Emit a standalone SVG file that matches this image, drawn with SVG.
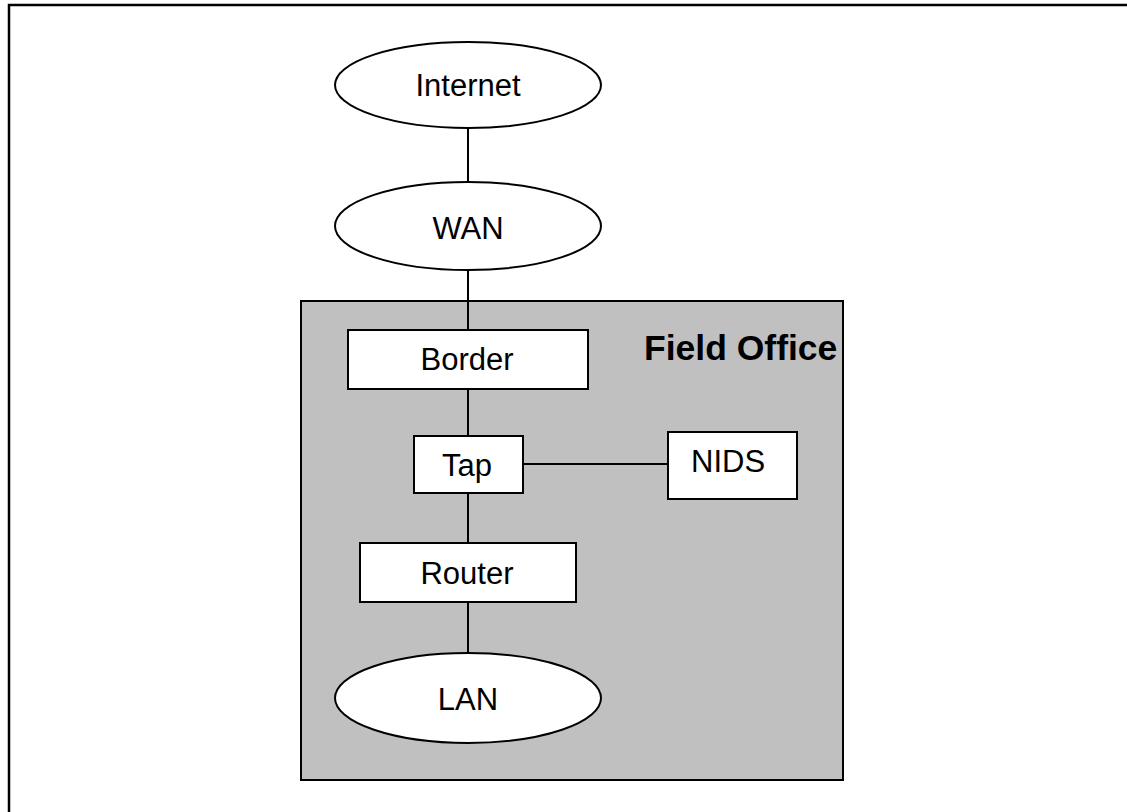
<svg xmlns="http://www.w3.org/2000/svg" width="1127" height="812" viewBox="0 0 1127 812">
<style>
.shape{fill:#fff;stroke:#000;stroke-width:2}
.lbl{font-family:"Liberation Sans",Arial,sans-serif;font-size:31px;fill:#000}
.c{stroke:#000;stroke-width:2;fill:none}
</style>
<rect width="1127" height="812" fill="#fff"/>
<path d="M9,812 V5 H1127" fill="none" stroke="#000" stroke-width="2.5"/>
<g id="field-office">
<rect x="301" y="301" width="542" height="479" fill="#c0c0c0" stroke="#000" stroke-width="2"/>
<text x="644" y="360" font-family="Liberation Sans,Arial,sans-serif" font-size="35.5" font-weight="bold">Field Office</text>
</g>
<g id="connectors">
<line class="c" x1="468" y1="128" x2="468" y2="183"/>
<line class="c" x1="468" y1="270" x2="468" y2="330"/>
<line class="c" x1="468" y1="389" x2="468" y2="436"/>
<line class="c" x1="468" y1="493" x2="468" y2="543"/>
<line class="c" x1="468" y1="602" x2="468" y2="654"/>
<line class="c" x1="523" y1="464" x2="668" y2="464"/>
</g>
<g id="internet">
<ellipse class="shape" cx="468" cy="85" rx="133" ry="43"/>
<text class="lbl" x="468" y="96" text-anchor="middle">Internet</text>
</g>
<g id="wan">
<ellipse class="shape" cx="468" cy="226" rx="133" ry="44"/>
<text class="lbl" x="468" y="239" text-anchor="middle">WAN</text>
</g>
<g id="border">
<rect class="shape" x="348" y="330" width="240" height="59"/>
<text class="lbl" x="467" y="370" text-anchor="middle">Border</text>
</g>
<g id="tap">
<rect class="shape" x="414" y="436" width="109" height="57"/>
<text class="lbl" x="467" y="476" text-anchor="middle">Tap</text>
</g>
<g id="nids">
<rect class="shape" x="668" y="432" width="129" height="67"/>
<text class="lbl" x="691" y="472">NIDS</text>
</g>
<g id="router">
<rect class="shape" x="360" y="543" width="216" height="59"/>
<text class="lbl" x="467" y="584" text-anchor="middle">Router</text>
</g>
<g id="lan">
<ellipse class="shape" cx="468" cy="698" rx="133" ry="45"/>
<text class="lbl" x="468" y="710" text-anchor="middle">LAN</text>
</g>
</svg>
